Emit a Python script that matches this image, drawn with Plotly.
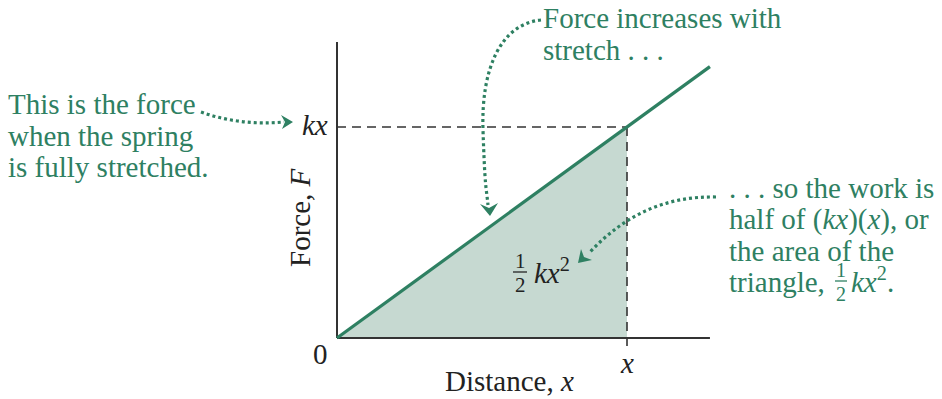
import plotly.graph_objects as go

# ---- data (spring force F = k x) ----
K = 1.0                 # spring constant (relative units)
X_STRETCH = 1.0         # full stretch x
X_AXIS_END = 1.286      # extent of the distance axis
Y_AXIS_END = 1.403      # extent of the force axis
line_x = [0.0, X_AXIS_END]
line_y = [K * v for v in line_x]
tri_x = [0.0, X_STRETCH, X_STRETCH, 0.0]
tri_y = [0.0, 0.0, K * X_STRETCH, 0.0]

GREEN = "#2e8062"
FILL = "#c6d9d1"
AX = "#333333"
DARK = "#222222"
FONT = "Liberation Serif"

W, H = 942, 399
OX, OY = 337, 338           # pixel of origin
SX, SY = 290, 211           # pixels per unit
def px(p):  # pixel -> data x
    return (p - OX) / SX
def py(p):  # pixel -> data y
    return (OY - p) / SY
def P(a, b):
    return f"{px(a):.5f},{py(b):.5f}"

fig = go.Figure()
# shaded triangle
fig.add_trace(go.Scatter(x=tri_x, y=tri_y, fill="toself", fillcolor=FILL,
                         line=dict(width=0), mode="lines", hoverinfo="skip"))
# axes
fig.add_trace(go.Scatter(x=[0, X_AXIS_END], y=[0, 0], mode="lines",
                         line=dict(color=AX, width=2), hoverinfo="skip"))
fig.add_trace(go.Scatter(x=[0, 0], y=[0, Y_AXIS_END], mode="lines",
                         line=dict(color=AX, width=2), hoverinfo="skip"))
# dashed guides
fig.add_trace(go.Scatter(x=[0, X_STRETCH], y=[K * X_STRETCH] * 2, mode="lines",
                         line=dict(color=AX, width=1.6, dash="9px,6px"), hoverinfo="skip"))
fig.add_trace(go.Scatter(x=[X_STRETCH, X_STRETCH], y=[K * X_STRETCH, py(352)], mode="lines",
                         line=dict(color=AX, width=1.6, dash="9px,6px"), hoverinfo="skip"))
# force line
fig.add_trace(go.Scatter(x=line_x, y=line_y, mode="lines",
                         line=dict(color=GREEN, width=3.2), hoverinfo="skip"))

shapes = []
dot = dict(color=GREEN, width=3.2, dash="3px,3px")
# curved dotted arrows
shapes.append(dict(type="path", xref="x", yref="y", line=dot,
                   path=f"M{P(201,112)} Q{P(240,126)} {P(284,122)}"))
shapes.append(dict(type="path", xref="x", yref="y", fillcolor=GREEN, line=dict(width=0),
                   path=f"M{P(293,122)} L{P(281,115)} L{P(285,122)} L{P(282,129)} Z"))
shapes.append(dict(type="path", xref="x", yref="y", line=dot,
                   path=f"M{P(541,20)} C{P(500,24)} {P(481,70)} {P(483,130)} S{P(486,185)} {P(488,205)}"))
shapes.append(dict(type="path", xref="x", yref="y", fillcolor=GREEN, line=dict(width=0),
                   path=f"M{P(490,216)} L{P(480,204)} L{P(489,208)} L{P(498,203)} Z"))
shapes.append(dict(type="path", xref="x", yref="y", line=dot,
                   path=f"M{P(716,197)} C{P(665,196)} {P(625,215)} {P(590,252)}"))
shapes.append(dict(type="path", xref="x", yref="y", fillcolor=GREEN, line=dict(width=0),
                   path=f"M{P(578,263)} L{P(581,249)} L{P(584,257)} L{P(592,260)} Z"))
# fraction bars
shapes.append(dict(type="line", xref="x", yref="y", x0=px(513), x1=px(527), y0=py(272), y1=py(272),
                   line=dict(color=DARK, width=1.3)))
shapes.append(dict(type="line", xref="x", yref="y", x0=px(835), x1=px(847), y0=py(281), y1=py(281),
                   line=dict(color=GREEN, width=1.3)))

ann = []
def T(text, x, y, size=29, color=GREEN, xanchor="left", **kw):
    ann.append(dict(text=text, x=px(x), y=py(y), xref="x", yref="y", showarrow=False,
                    xanchor=xanchor, yanchor="middle", borderpad=0,
                    font=dict(family=FONT, size=size, color=color), **kw))

for t, yy in [("This is the force", 104), ("when the spring", 136), ("is fully stretched.", 167)]:
    T(t, 7, yy)
for t, yy in [("Force increases with", 18), ("stretch . . .", 50)]:
    T(t, 542, yy)
for t, yy in [(". . . so the work is", 188), ("half of (<i>kx</i>)(<i>x</i>), or", 219),
              ("the area of the", 251), ("triangle,", 282)]:
    T(t, 728, yy)
T("1", 841, 270, size=20, xanchor="center")
T("2", 841, 294, size=20, xanchor="center")
T("<i>kx</i><sup>2</sup>.", 850, 280)

T("<i>kx</i>", 329, 125, color=DARK, xanchor="right")
T("0", 320, 354, color=DARK, xanchor="center")
T("<i>x</i>", 627, 363, color=DARK, xanchor="center")
T("Distance, <i>x</i>", 509, 381, color=DARK, xanchor="center")
T("Force, <i>F</i>", 300, 218, color=DARK, xanchor="center", textangle=-90)
T("1", 520, 261, size=21, color=DARK, xanchor="center")
T("2", 520, 285, size=21, color=DARK, xanchor="center")
T("<i>kx</i><sup>2</sup>", 533, 271, color=DARK)

fig.update_layout(
    width=W, height=H, margin=dict(l=0, r=0, t=0, b=0),
    paper_bgcolor="white", plot_bgcolor="white", showlegend=False,
    xaxis=dict(range=[px(0), px(W)], visible=False, fixedrange=True),
    yaxis=dict(range=[py(H), py(0)], visible=False, fixedrange=True),
    shapes=shapes, annotations=ann,
)
fig.write_html("out.html", config=dict(displayModeBar=False),
               post_script="document.body.style.margin='0px';document.body.style.overflow='hidden';")
